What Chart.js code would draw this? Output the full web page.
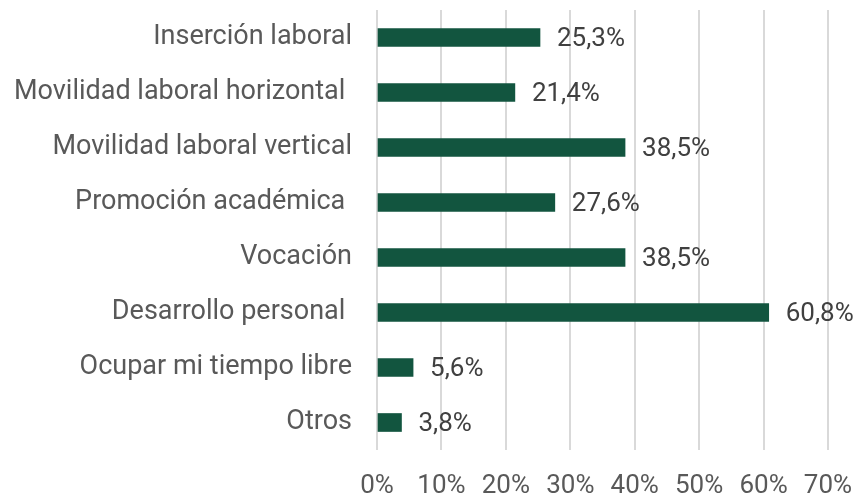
<!DOCTYPE html>
<html><head><meta charset="utf-8">
<script src="https://cdn.jsdelivr.net/npm/chart.js@4/dist/chart.umd.min.js"></script>
<style>html,body{margin:0;padding:0;background:#fff;}#wrap{width:857px;height:495px;}</style>
</head><body><div id="wrap"><canvas id="c"></canvas></div>
<script>
const categories = ["Inserción laboral", "Movilidad laboral horizontal ", "Movilidad laboral vertical", "Promoción académica ", "Vocación", "Desarrollo personal ", "Ocupar mi tiempo libre", "Otros"];
const values = [25.3, 21.4, 38.5, 27.6, 38.5, 60.8, 5.6, 3.8];
const valueLabels = ["25,3%", "21,4%", "38,5%", "27,6%", "38,5%", "60,8%", "5,6%", "3,8%"];
const xTicks = [0, 10, 20, 30, 40, 50, 60, 70];

const labelPlugin = {
  id: 'valLabels',
  afterDatasetsDraw(chart) {
    const ctx = chart.ctx;
    const meta = chart.getDatasetMeta(0);
    ctx.save();
    ctx.font = '26px Roboto';
    ctx.fillStyle = '#404040';
    ctx.textAlign = 'left';
    ctx.textBaseline = 'middle';
    meta.data.forEach((bar, i) => {
      ctx.fillText(valueLabels[i], bar.x + 17, bar.y + 2);
    });
    ctx.restore();
  }
};

function noPad(s) { s.paddingTop = 0; s.paddingBottom = 0; s.paddingLeft = 0; s.paddingRight = 0; }

new Chart(document.getElementById('c'), {
  type: 'bar',
  data: { labels: categories, datasets: [{ data: values, backgroundColor: '#12553F', barThickness: 18 }] },
  options: {
    indexAxis: 'y', responsive: true, maintainAspectRatio: false, animation: false,
    layout: { padding: { top: 10, right: 29, left: 0, bottom: 0 } },
    plugins: { legend: { display: false }, tooltip: { enabled: false } },
    scales: {
      x: {
        min: 0, max: 70,
        afterBuildTicks(s) { s.ticks = xTicks.map(v => ({ value: v })); },
        afterFit(s) { s.height = 45; noPad(s); },
        grid: { color: '#d9d9d9', lineWidth: 2, drawTicks: false },
        border: { display: false },
        ticks: { padding: 21, color: '#595959', font: { family: 'Roboto', size: 26 }, maxRotation: 0, callback: v => v + '%' }
      },
      y: {
        afterFit(s) { s.width = 377; noPad(s); },
        grid: { display: false },
        border: { display: false },
        ticks: { padding: 17, color: '#595959', font: { family: 'Roboto', size: 27 } }
      }
    }
  },
  plugins: [labelPlugin]
});
</script></body></html>
